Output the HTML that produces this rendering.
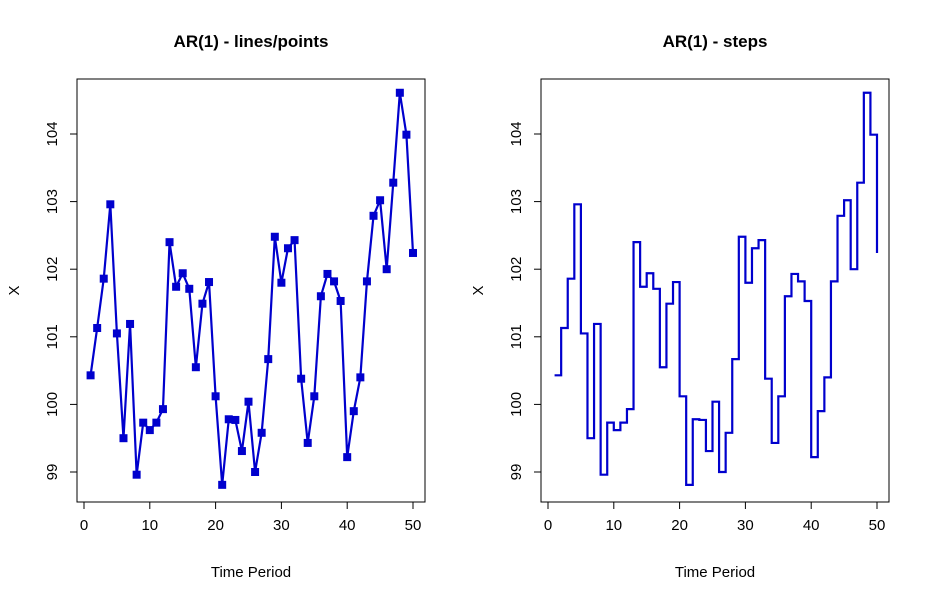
<!DOCTYPE html>
<html><head><meta charset="utf-8"><style>
body{margin:0;background:#fff}
svg text{font-family:"Liberation Sans",Arial,sans-serif;fill:#000}
</style></head><body>
<svg id="s" width="931" height="600" xmlns="http://www.w3.org/2000/svg"></svg>
<script>
const periods=[1,2,3,4,5,6,7,8,9,10,11,12,13,14,15,16,17,18,19,20,21,22,23,24,25,26,27,28,29,30,31,32,33,34,35,36,37,38,39,40,41,42,43,44,45,46,47,48,49,50];
const values=[100.43,101.13,101.86,102.96,101.05,99.50,101.19,98.96,99.73,99.62,99.73,99.93,102.40,101.74,101.94,101.71,100.55,101.49,101.81,100.12,98.81,99.78,99.77,99.31,100.04,99.00,99.58,100.67,102.48,101.80,102.31,102.43,100.38,99.43,100.12,101.60,101.93,101.82,101.53,99.22,99.90,100.40,101.82,102.79,103.02,102.00,103.28,104.61,103.99,102.24];
const xTicks=[0,10,20,30,40,50];
const yTicks=[99,100,101,102,103,104];
const titles=["AR(1) - lines/points","AR(1) - steps"];
const NS="http://www.w3.org/2000/svg";
const svgEl=document.getElementById('s');
function mk(t,a,p){const e=document.createElementNS(NS,t);for(const k in a)e.setAttribute(k,a[k]);(p||svgEl).appendChild(e);return e;}
const panels=[{left:77,right:425,x0:84,x50:413},{left:541,right:889,x0:548,x50:877}];
const plotTop=79,plotBot=502;
function yS(v){return 134+(104-v)*67.6;}
panels.forEach((P,pi)=>{
  const g=mk('g',{});
  
  
  const xS=v=>P.x0+(v-0)*(P.x50-P.x0)/50;
  const box=mk('rect',{x:P.left,y:plotTop,width:P.right-P.left,height:plotBot-plotTop,fill:'none',stroke:'#000','stroke-width':1},g);
  
  
  const t=mk('text',{x:(P.left+P.right)/2,y:47,'text-anchor':'middle','font-size':17,'font-weight':'bold'},g);t.textContent=titles[pi];
  
  
  const xl=mk('text',{x:(P.left+P.right)/2,y:577,'text-anchor':'middle','font-size':15},g);xl.textContent='Time Period';
  
  
  const yx=P.left-58,yy=(plotTop+plotBot)/2;
  const yl=mk('text',{x:yx,y:yy,'text-anchor':'middle','font-size':15,transform:`rotate(-90 ${yx} ${yy})`},g);yl.textContent='X';
  
  
  mk('line',{x1:xS(xTicks[0]),x2:xS(xTicks[xTicks.length-1]),y1:plotBot,y2:plotBot,stroke:'#000'},g);
  xTicks.forEach(v=>{mk('line',{x1:xS(v),x2:xS(v),y1:plotBot,y2:plotBot+7,stroke:'#000'},g);
    const l=mk('text',{x:xS(v),y:530,'text-anchor':'middle','font-size':15},g);l.textContent=v;
    
    });
  mk('line',{x1:P.left,x2:P.left,y1:yS(yTicks[0]),y2:yS(yTicks[yTicks.length-1]),stroke:'#000'},g);
  yTicks.forEach(v=>{mk('line',{x1:P.left-7,x2:P.left,y1:yS(v),y2:yS(v),stroke:'#000'},g);
    const lx=P.left-20,ly=yS(v);
    const l=mk('text',{x:lx,y:ly,'text-anchor':'middle','font-size':15,transform:`rotate(-90 ${lx} ${ly})`},g);l.textContent=v;
    
    });
  let d='';
  if(pi==0){
    periods.forEach((p,i)=>{d+=(i?'L':'M')+xS(p)+' '+yS(values[i]);});
  } else {
    periods.forEach((p,i)=>{
      if(i==0)d+='M'+xS(p)+' '+yS(values[i]);
      else d+='H'+xS(p)+'V'+yS(values[i]);
    });
  }
  const path=mk('path',{d:d,fill:'none',stroke:'#0000cd','stroke-width':2.2},g);
  
  
  if(pi==0){periods.forEach((p,i)=>{
    const r=mk('rect',{x:xS(p)-4,y:yS(values[i])-4,width:8,height:8,fill:'#0000cd'},g);
    
    
  });}
});
</script>
</body></html>
